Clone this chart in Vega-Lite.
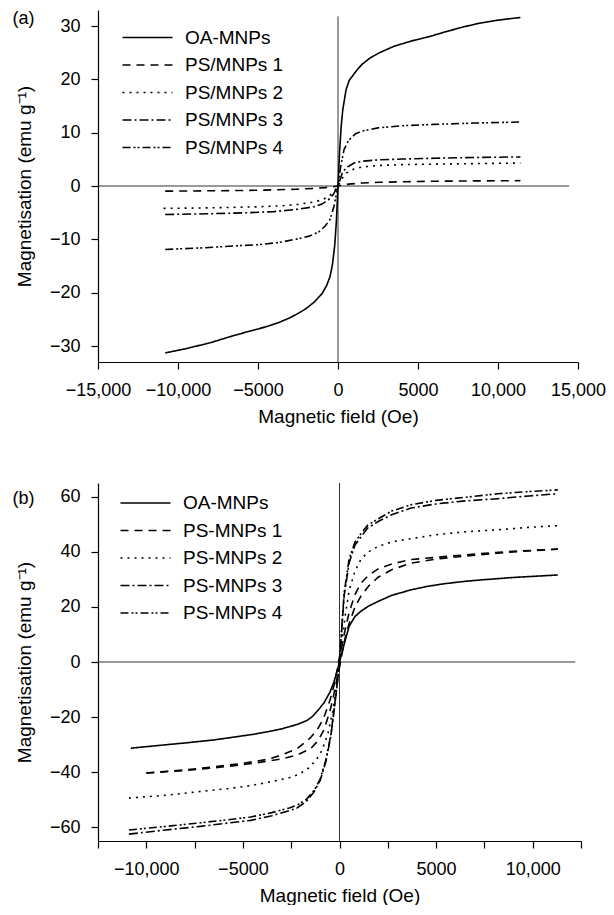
{
  "$schema": "https://vega.github.io/schema/vega-lite/v6.json",
  "padding": {"top": 10, "left": 12, "right": 0, "bottom": 0},
  "spacing": 56,
  "config": {
    "view": {"stroke": null},
    "font": "Liberation Sans",
    "axis": {"domainColor": "#000", "tickColor": "#000", "labelColor": "#000", "titleColor": "#000", "labelFont": "Liberation Sans", "titleFont": "Liberation Sans", "labelFontSize": 18, "titleFontSize": 19, "titleFontWeight": "normal", "tickSize": 7, "grid": false, "labelOverlap": false, "labelFlush": false, "domainWidth": 1.2, "tickWidth": 1.2},
    "axisX": {"labelPadding": 12, "titlePadding": 8},
    "axisY": {"labelPadding": 11, "titlePadding": 15},
    "legend": {"orient": "none", "title": null, "symbolType": "M-4,0L4,0", "symbolSize": 156.25, "symbolStrokeWidth": 1.5, "symbolStrokeColor": "#000", "labelFontSize": 19, "labelFont": "Liberation Sans", "labelColor": "#000", "rowPadding": 7.5, "labelOffset": 28, "padding": 0},
    "title": {"font": "Liberation Sans", "fontSize": 18, "fontWeight": "normal", "color": "#000", "anchor": "start", "frame": "bounds"}
  },
  "datasets": {
    "a": [
      {"s":"OA-MNPs","x":-10800,"y":-31.3},{"s":"OA-MNPs","x":-9500,"y":-30.5},{"s":"OA-MNPs","x":-8000,"y":-29.4},{"s":"OA-MNPs","x":-6800,"y":-28.3},{"s":"OA-MNPs","x":-5500,"y":-27.2},{"s":"OA-MNPs","x":-4500,"y":-26.4},{"s":"OA-MNPs","x":-3700,"y":-25.6},{"s":"OA-MNPs","x":-3000,"y":-24.7},{"s":"OA-MNPs","x":-2500,"y":-23.9},{"s":"OA-MNPs","x":-2000,"y":-23.0},{"s":"OA-MNPs","x":-1500,"y":-21.8},{"s":"OA-MNPs","x":-1000,"y":-20.2},{"s":"OA-MNPs","x":-700,"y":-18.6},{"s":"OA-MNPs","x":-500,"y":-17.0},{"s":"OA-MNPs","x":-350,"y":-14.8},{"s":"OA-MNPs","x":-200,"y":-11.0},{"s":"OA-MNPs","x":-100,"y":-6.5},{"s":"OA-MNPs","x":0,"y":0},{"s":"OA-MNPs","x":100,"y":6.5},{"s":"OA-MNPs","x":200,"y":11.2},{"s":"OA-MNPs","x":300,"y":14.3},{"s":"OA-MNPs","x":500,"y":18.0},{"s":"OA-MNPs","x":700,"y":19.8},{"s":"OA-MNPs","x":900,"y":20.6},{"s":"OA-MNPs","x":1200,"y":21.8},{"s":"OA-MNPs","x":1500,"y":22.8},{"s":"OA-MNPs","x":2000,"y":24.0},{"s":"OA-MNPs","x":2600,"y":25.0},{"s":"OA-MNPs","x":3500,"y":26.2},{"s":"OA-MNPs","x":4600,"y":27.2},{"s":"OA-MNPs","x":5700,"y":28.0},{"s":"OA-MNPs","x":6700,"y":28.9},{"s":"OA-MNPs","x":7800,"y":29.8},{"s":"OA-MNPs","x":8800,"y":30.5},{"s":"OA-MNPs","x":10000,"y":31.1},{"s":"OA-MNPs","x":11400,"y":31.6},
      {"s":"PS/MNPs 1","x":-10800,"y":-0.97},{"s":"PS/MNPs 1","x":-8000,"y":-0.9},{"s":"PS/MNPs 1","x":-5000,"y":-0.8},{"s":"PS/MNPs 1","x":-2600,"y":-0.6},{"s":"PS/MNPs 1","x":-1500,"y":-0.45},{"s":"PS/MNPs 1","x":-800,"y":-0.3},{"s":"PS/MNPs 1","x":-300,"y":-0.15},{"s":"PS/MNPs 1","x":0,"y":0},{"s":"PS/MNPs 1","x":300,"y":0.2},{"s":"PS/MNPs 1","x":800,"y":0.4},{"s":"PS/MNPs 1","x":1500,"y":0.55},{"s":"PS/MNPs 1","x":2600,"y":0.7},{"s":"PS/MNPs 1","x":5000,"y":0.85},{"s":"PS/MNPs 1","x":8000,"y":0.95},{"s":"PS/MNPs 1","x":11400,"y":1.0},
      {"s":"PS/MNPs 2","x":-10900,"y":-4.2},{"s":"PS/MNPs 2","x":-8000,"y":-4.1},{"s":"PS/MNPs 2","x":-5000,"y":-3.9},{"s":"PS/MNPs 2","x":-3500,"y":-3.7},{"s":"PS/MNPs 2","x":-2500,"y":-3.45},{"s":"PS/MNPs 2","x":-1500,"y":-3.0},{"s":"PS/MNPs 2","x":-1000,"y":-2.6},{"s":"PS/MNPs 2","x":-600,"y":-2.0},{"s":"PS/MNPs 2","x":-300,"y":-1.2},{"s":"PS/MNPs 2","x":0,"y":0},{"s":"PS/MNPs 2","x":250,"y":1.4},{"s":"PS/MNPs 2","x":500,"y":2.4},{"s":"PS/MNPs 2","x":1000,"y":3.2},{"s":"PS/MNPs 2","x":1500,"y":3.55},{"s":"PS/MNPs 2","x":2500,"y":3.85},{"s":"PS/MNPs 2","x":4000,"y":4.0},{"s":"PS/MNPs 2","x":6000,"y":4.1},{"s":"PS/MNPs 2","x":8500,"y":4.2},{"s":"PS/MNPs 2","x":11400,"y":4.3},
      {"s":"PS/MNPs 3","x":-10800,"y":-5.35},{"s":"PS/MNPs 3","x":-8000,"y":-5.2},{"s":"PS/MNPs 3","x":-5500,"y":-5.0},{"s":"PS/MNPs 3","x":-4000,"y":-4.8},{"s":"PS/MNPs 3","x":-2500,"y":-4.35},{"s":"PS/MNPs 3","x":-1500,"y":-3.9},{"s":"PS/MNPs 3","x":-1000,"y":-3.4},{"s":"PS/MNPs 3","x":-600,"y":-2.6},{"s":"PS/MNPs 3","x":-300,"y":-1.6},{"s":"PS/MNPs 3","x":0,"y":0},{"s":"PS/MNPs 3","x":250,"y":2.3},{"s":"PS/MNPs 3","x":500,"y":3.4},{"s":"PS/MNPs 3","x":1000,"y":4.3},{"s":"PS/MNPs 3","x":1500,"y":4.65},{"s":"PS/MNPs 3","x":2500,"y":4.9},{"s":"PS/MNPs 3","x":4000,"y":5.05},{"s":"PS/MNPs 3","x":6000,"y":5.2},{"s":"PS/MNPs 3","x":8500,"y":5.35},{"s":"PS/MNPs 3","x":11400,"y":5.45},
      {"s":"PS/MNPs 4","x":-10800,"y":-11.9},{"s":"PS/MNPs 4","x":-8500,"y":-11.6},{"s":"PS/MNPs 4","x":-6800,"y":-11.3},{"s":"PS/MNPs 4","x":-5000,"y":-11.0},{"s":"PS/MNPs 4","x":-3700,"y":-10.6},{"s":"PS/MNPs 4","x":-2500,"y":-9.9},{"s":"PS/MNPs 4","x":-1800,"y":-9.4},{"s":"PS/MNPs 4","x":-1200,"y":-8.6},{"s":"PS/MNPs 4","x":-800,"y":-7.5},{"s":"PS/MNPs 4","x":-500,"y":-6.3},{"s":"PS/MNPs 4","x":-250,"y":-3.8},{"s":"PS/MNPs 4","x":0,"y":0},{"s":"PS/MNPs 4","x":170,"y":3.7},{"s":"PS/MNPs 4","x":375,"y":6.8},{"s":"PS/MNPs 4","x":600,"y":8.2},{"s":"PS/MNPs 4","x":800,"y":9.0},{"s":"PS/MNPs 4","x":1100,"y":9.8},{"s":"PS/MNPs 4","x":1500,"y":10.3},{"s":"PS/MNPs 4","x":2500,"y":10.9},{"s":"PS/MNPs 4","x":4000,"y":11.3},{"s":"PS/MNPs 4","x":6000,"y":11.55},{"s":"PS/MNPs 4","x":8500,"y":11.8},{"s":"PS/MNPs 4","x":11400,"y":12.0}
    ],
    "b": [
      {"s":"OA-MNPs","x":-10800,"y":-31.3},{"s":"OA-MNPs","x":-9500,"y":-30.4},{"s":"OA-MNPs","x":-8000,"y":-29.4},{"s":"OA-MNPs","x":-6500,"y":-28.3},{"s":"OA-MNPs","x":-5400,"y":-27.2},{"s":"OA-MNPs","x":-4500,"y":-26.3},{"s":"OA-MNPs","x":-3700,"y":-25.3},{"s":"OA-MNPs","x":-3000,"y":-24.3},{"s":"OA-MNPs","x":-2200,"y":-22.7},{"s":"OA-MNPs","x":-1700,"y":-21.3},{"s":"OA-MNPs","x":-1400,"y":-19.8},{"s":"OA-MNPs","x":-1050,"y":-17.0},{"s":"OA-MNPs","x":-800,"y":-14.8},{"s":"OA-MNPs","x":-500,"y":-11.0},{"s":"OA-MNPs","x":-300,"y":-7.5},{"s":"OA-MNPs","x":-150,"y":-4.0},{"s":"OA-MNPs","x":0,"y":0},{"s":"OA-MNPs","x":150,"y":4.0},{"s":"OA-MNPs","x":300,"y":8.0},{"s":"OA-MNPs","x":500,"y":13.0},{"s":"OA-MNPs","x":800,"y":16.5},{"s":"OA-MNPs","x":1100,"y":18.4},{"s":"OA-MNPs","x":1500,"y":20.3},{"s":"OA-MNPs","x":2000,"y":22.0},{"s":"OA-MNPs","x":2700,"y":24.2},{"s":"OA-MNPs","x":3700,"y":26.2},{"s":"OA-MNPs","x":4500,"y":27.4},{"s":"OA-MNPs","x":5400,"y":28.4},{"s":"OA-MNPs","x":6500,"y":29.3},{"s":"OA-MNPs","x":7500,"y":29.9},{"s":"OA-MNPs","x":9000,"y":30.7},{"s":"OA-MNPs","x":11300,"y":31.6},
      {"s":"PS-MNPs 1","b":"down","x":11300,"y":41.0},{"s":"PS-MNPs 1","b":"down","x":9000,"y":40.2},{"s":"PS-MNPs 1","b":"down","x":7000,"y":39.2},{"s":"PS-MNPs 1","b":"down","x":5000,"y":38.0},{"s":"PS-MNPs 1","b":"down","x":3700,"y":37.2},{"s":"PS-MNPs 1","b":"down","x":2700,"y":35.6},{"s":"PS-MNPs 1","b":"down","x":2000,"y":33.8},{"s":"PS-MNPs 1","b":"down","x":1500,"y":31.5},{"s":"PS-MNPs 1","b":"down","x":1100,"y":28.5},{"s":"PS-MNPs 1","b":"down","x":800,"y":24.5},{"s":"PS-MNPs 1","b":"down","x":500,"y":18.0},{"s":"PS-MNPs 1","b":"down","x":300,"y":12.0},{"s":"PS-MNPs 1","b":"down","x":100,"y":5.0},{"s":"PS-MNPs 1","b":"down","x":0,"y":2.0},{"s":"PS-MNPs 1","b":"down","x":-100,"y":-2.0},{"s":"PS-MNPs 1","b":"down","x":-300,"y":-9.0},{"s":"PS-MNPs 1","b":"down","x":-500,"y":-14.0},{"s":"PS-MNPs 1","b":"down","x":-800,"y":-20.0},{"s":"PS-MNPs 1","b":"down","x":-1100,"y":-24.0},{"s":"PS-MNPs 1","b":"down","x":-1500,"y":-27.5},{"s":"PS-MNPs 1","b":"down","x":-2200,"y":-31.5},{"s":"PS-MNPs 1","b":"down","x":-3000,"y":-33.8},{"s":"PS-MNPs 1","b":"down","x":-3700,"y":-35.3},{"s":"PS-MNPs 1","b":"down","x":-5000,"y":-36.8},{"s":"PS-MNPs 1","b":"down","x":-6300,"y":-37.9},{"s":"PS-MNPs 1","b":"down","x":-8000,"y":-39.2},{"s":"PS-MNPs 1","b":"down","x":-10000,"y":-40.3},
      {"s":"PS-MNPs 1","b":"up","x":-10000,"y":-40.3},{"s":"PS-MNPs 1","b":"up","x":-8000,"y":-39.4},{"s":"PS-MNPs 1","b":"up","x":-6300,"y":-38.3},{"s":"PS-MNPs 1","b":"up","x":-5000,"y":-37.3},{"s":"PS-MNPs 1","b":"up","x":-3700,"y":-36.0},{"s":"PS-MNPs 1","b":"up","x":-3000,"y":-35.2},{"s":"PS-MNPs 1","b":"up","x":-2200,"y":-33.8},{"s":"PS-MNPs 1","b":"up","x":-1500,"y":-31.5},{"s":"PS-MNPs 1","b":"up","x":-1100,"y":-28.5},{"s":"PS-MNPs 1","b":"up","x":-800,"y":-24.5},{"s":"PS-MNPs 1","b":"up","x":-500,"y":-18.0},{"s":"PS-MNPs 1","b":"up","x":-300,"y":-12.0},{"s":"PS-MNPs 1","b":"up","x":-100,"y":-5.0},{"s":"PS-MNPs 1","b":"up","x":0,"y":-2.0},{"s":"PS-MNPs 1","b":"up","x":100,"y":2.0},{"s":"PS-MNPs 1","b":"up","x":300,"y":9.0},{"s":"PS-MNPs 1","b":"up","x":500,"y":14.0},{"s":"PS-MNPs 1","b":"up","x":800,"y":20.0},{"s":"PS-MNPs 1","b":"up","x":1100,"y":23.8},{"s":"PS-MNPs 1","b":"up","x":1500,"y":27.5},{"s":"PS-MNPs 1","b":"up","x":2000,"y":30.8},{"s":"PS-MNPs 1","b":"up","x":2700,"y":33.5},{"s":"PS-MNPs 1","b":"up","x":3700,"y":35.9},{"s":"PS-MNPs 1","b":"up","x":5000,"y":37.4},{"s":"PS-MNPs 1","b":"up","x":7000,"y":38.8},{"s":"PS-MNPs 1","b":"up","x":9000,"y":40.0},{"s":"PS-MNPs 1","b":"up","x":11300,"y":41.0},
      {"s":"PS-MNPs 2","x":-10900,"y":-49.4},{"s":"PS-MNPs 2","x":-9000,"y":-48.4},{"s":"PS-MNPs 2","x":-7200,"y":-47.0},{"s":"PS-MNPs 2","x":-5800,"y":-46.0},{"s":"PS-MNPs 2","x":-4600,"y":-44.9},{"s":"PS-MNPs 2","x":-3500,"y":-43.4},{"s":"PS-MNPs 2","x":-2600,"y":-42.0},{"s":"PS-MNPs 2","x":-2100,"y":-40.8},{"s":"PS-MNPs 2","x":-1600,"y":-38.5},{"s":"PS-MNPs 2","x":-1200,"y":-35.5},{"s":"PS-MNPs 2","x":-900,"y":-32.0},{"s":"PS-MNPs 2","x":-600,"y":-26.0},{"s":"PS-MNPs 2","x":-350,"y":-18.0},{"s":"PS-MNPs 2","x":-150,"y":-8.0},{"s":"PS-MNPs 2","x":0,"y":0},{"s":"PS-MNPs 2","x":150,"y":9.0},{"s":"PS-MNPs 2","x":300,"y":17.0},{"s":"PS-MNPs 2","x":500,"y":26.0},{"s":"PS-MNPs 2","x":800,"y":33.0},{"s":"PS-MNPs 2","x":1100,"y":37.1},{"s":"PS-MNPs 2","x":1450,"y":39.8},{"s":"PS-MNPs 2","x":2000,"y":42.0},{"s":"PS-MNPs 2","x":2700,"y":43.6},{"s":"PS-MNPs 2","x":3700,"y":44.8},{"s":"PS-MNPs 2","x":5000,"y":46.2},{"s":"PS-MNPs 2","x":6500,"y":47.3},{"s":"PS-MNPs 2","x":8200,"y":48.0},{"s":"PS-MNPs 2","x":9800,"y":48.9},{"s":"PS-MNPs 2","x":11300,"y":49.5},
      {"s":"PS-MNPs 3","x":-10900,"y":-62.5},{"s":"PS-MNPs 3","x":-9000,"y":-61.0},{"s":"PS-MNPs 3","x":-7200,"y":-59.7},{"s":"PS-MNPs 3","x":-5800,"y":-58.5},{"s":"PS-MNPs 3","x":-4600,"y":-57.5},{"s":"PS-MNPs 3","x":-3500,"y":-55.8},{"s":"PS-MNPs 3","x":-2600,"y":-54.0},{"s":"PS-MNPs 3","x":-2200,"y":-53.0},{"s":"PS-MNPs 3","x":-1700,"y":-50.5},{"s":"PS-MNPs 3","x":-1300,"y":-47.0},{"s":"PS-MNPs 3","x":-1000,"y":-43.0},{"s":"PS-MNPs 3","x":-700,"y":-36.0},{"s":"PS-MNPs 3","x":-450,"y":-27.0},{"s":"PS-MNPs 3","x":-250,"y":-16.0},{"s":"PS-MNPs 3","x":-100,"y":-7.0},{"s":"PS-MNPs 3","x":0,"y":0},{"s":"PS-MNPs 3","x":100,"y":10.0},{"s":"PS-MNPs 3","x":240,"y":24.0},{"s":"PS-MNPs 3","x":500,"y":36.0},{"s":"PS-MNPs 3","x":800,"y":42.5},{"s":"PS-MNPs 3","x":1100,"y":45.3},{"s":"PS-MNPs 3","x":1450,"y":48.6},{"s":"PS-MNPs 3","x":2000,"y":51.0},{"s":"PS-MNPs 3","x":2700,"y":53.5},{"s":"PS-MNPs 3","x":3700,"y":55.9},{"s":"PS-MNPs 3","x":5000,"y":57.4},{"s":"PS-MNPs 3","x":6500,"y":58.5},{"s":"PS-MNPs 3","x":8200,"y":59.3},{"s":"PS-MNPs 3","x":9800,"y":60.3},{"s":"PS-MNPs 3","x":11300,"y":61.1},
      {"s":"PS-MNPs 4","x":-10900,"y":-61.0},{"s":"PS-MNPs 4","x":-9000,"y":-59.7},{"s":"PS-MNPs 4","x":-7200,"y":-58.4},{"s":"PS-MNPs 4","x":-5800,"y":-57.3},{"s":"PS-MNPs 4","x":-4600,"y":-56.3},{"s":"PS-MNPs 4","x":-3500,"y":-54.7},{"s":"PS-MNPs 4","x":-2600,"y":-53.0},{"s":"PS-MNPs 4","x":-2200,"y":-52.0},{"s":"PS-MNPs 4","x":-1700,"y":-49.8},{"s":"PS-MNPs 4","x":-1300,"y":-46.5},{"s":"PS-MNPs 4","x":-1000,"y":-42.5},{"s":"PS-MNPs 4","x":-700,"y":-35.5},{"s":"PS-MNPs 4","x":-450,"y":-26.5},{"s":"PS-MNPs 4","x":-250,"y":-15.5},{"s":"PS-MNPs 4","x":-100,"y":-6.5},{"s":"PS-MNPs 4","x":0,"y":0},{"s":"PS-MNPs 4","x":100,"y":11.0},{"s":"PS-MNPs 4","x":240,"y":25.0},{"s":"PS-MNPs 4","x":500,"y":37.5},{"s":"PS-MNPs 4","x":800,"y":43.5},{"s":"PS-MNPs 4","x":1100,"y":46.5},{"s":"PS-MNPs 4","x":1450,"y":49.6},{"s":"PS-MNPs 4","x":2000,"y":52.0},{"s":"PS-MNPs 4","x":2700,"y":54.8},{"s":"PS-MNPs 4","x":3700,"y":57.1},{"s":"PS-MNPs 4","x":5000,"y":58.7},{"s":"PS-MNPs 4","x":6500,"y":59.8},{"s":"PS-MNPs 4","x":8200,"y":61.1},{"s":"PS-MNPs 4","x":9800,"y":61.9},{"s":"PS-MNPs 4","x":11300,"y":62.5}
    ],
    "za": [{"x":0,"x2":0,"y":-33,"y2":31.8},{"x":-15000,"x2":14440,"y":0,"y2":0}],
    "zb": [{"x":0,"x2":0,"y":-65,"y2":65},{"x":-12500,"x2":12200,"y":0,"y2":0}]
  },
  "vconcat": [
    {
      "width": 480, "height": 352,
      "title": {"text": "(a)", "offset": -18, "dx": -3},
      "layer": [
        {
          "data": {"name": "za"},
          "mark": {"type": "rule", "color": "#333", "strokeWidth": 1},
          "encoding": {
            "x": {"field": "x", "type": "quantitative", "scale": {"domain": [-15000, 15000], "nice": false}, "axis": {"title": "Magnetic field (Oe)", "values": [-15000,-12500,-10000,-7500,-5000,-2500,0,2500,5000,7500,10000,12500,15000], "labelExpr": "datum.value % 5000 == 0 ? (abs(datum.value) >= 10000 ? format(datum.value, ',') : format(datum.value, 'd')) : ''"}},
            "x2": {"field": "x2"},
            "y": {"field": "y", "type": "quantitative", "scale": {"domain": [-33, 33], "nice": false, "zero": false}, "axis": {"title": "Magnetisation (emu g⁻¹)", "values": [-30,-25,-20,-15,-10,-5,0,5,10,15,20,25,30], "labelExpr": "datum.value % 10 == 0 ? format(datum.value, 'd') : ''"}},
            "y2": {"field": "y2"}
          }
        },
        {
          "data": {"name": "a"},
          "mark": {"type": "line", "color": "#000", "strokeWidth": 1.6},
          "encoding": {
            "x": {"field": "x", "type": "quantitative"},
            "y": {"field": "y", "type": "quantitative"},
            "strokeDash": {"field": "s", "type": "nominal", "scale": {"domain": ["OA-MNPs","PS/MNPs 1","PS/MNPs 2","PS/MNPs 3","PS/MNPs 4"], "range": [[1,0],[8,6],[2,5],[9,3,2,3],[8,3,2,2,2,3]]}, "legend": {"legendX": 40, "legendY": 18}}
          }
        }
      ]
    },
    {
      "width": 483, "height": 358,
      "title": {"text": "(b)", "offset": -25, "dx": -3},
      "layer": [
        {
          "data": {"name": "zb"},
          "mark": {"type": "rule", "color": "#333", "strokeWidth": 1},
          "encoding": {
            "x": {"field": "x", "type": "quantitative", "scale": {"domain": [-12500, 12500], "nice": false}, "axis": {"title": "Magnetic field (Oe)", "values": [-12500,-10000,-7500,-5000,-2500,0,2500,5000,7500,10000,12500], "labelExpr": "datum.value % 5000 == 0 ? (abs(datum.value) >= 10000 ? format(datum.value, ',') : format(datum.value, 'd')) : ''"}},
            "x2": {"field": "x2"},
            "y": {"field": "y", "type": "quantitative", "scale": {"domain": [-65, 65], "nice": false, "zero": false}, "axis": {"title": "Magnetisation (emu g⁻¹)", "values": [-60,-55,-50,-45,-40,-35,-30,-25,-20,-15,-10,-5,0,5,10,15,20,25,30,35,40,45,50,55,60], "labelExpr": "datum.value % 10 == 0 ? format(datum.value, 'd') : ''"}},
            "y2": {"field": "y2"}
          }
        },
        {
          "data": {"name": "b"},
          "mark": {"type": "line", "color": "#000", "strokeWidth": 1.6},
          "encoding": {
            "x": {"field": "x", "type": "quantitative"},
            "y": {"field": "y", "type": "quantitative"},
            "detail": {"field": "b", "type": "nominal"},
            "strokeDash": {"field": "s", "type": "nominal", "scale": {"domain": ["OA-MNPs","PS-MNPs 1","PS-MNPs 2","PS-MNPs 3","PS-MNPs 4"], "range": [[1,0],[8,6],[2,5],[9,3,2,3],[8,3,2,2,2,3]]}, "legend": {"legendX": 38, "legendY": 10.5}}
          }
        }
      ]
    }
  ],
  "resolve": {"scale": {"strokeDash": "independent"}, "legend": {"strokeDash": "independent"}}
}
